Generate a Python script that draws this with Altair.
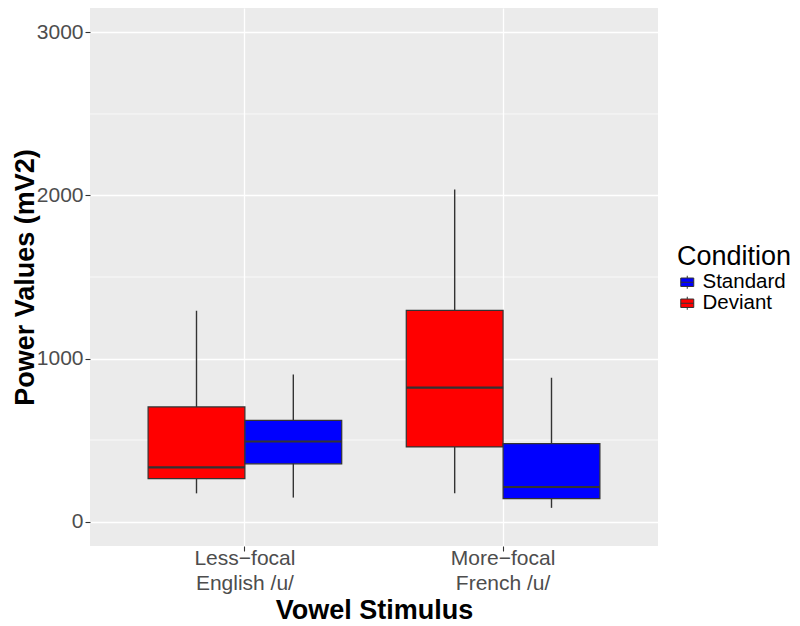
import altair as alt
import pandas as pd

# Category labels ("|" marks a line break in the axis label)
stimuli = ["Less−focal|English /u/", "More−focal|French /u/"]
conditions = ["Deviant", "Standard"]
legend_order = ["Standard", "Deviant"]
colors = ["#0000FF", "#FF0000"]

# Boxplot statistics, one entry per (stimulus, condition) in the order
# Less/Deviant, Less/Standard, More/Deviant, More/Standard
row_stim = [stimuli[0], stimuli[0], stimuli[1], stimuli[1]]
row_cond = ["Deviant", "Standard", "Deviant", "Standard"]
lower = [173, 147, 173, 84]
q1 = [263, 354, 458, 141]
median = [332, 491, 821, 212]
q3 = [703, 621, 1295, 478]
upper = [1293, 902, 2037, 882]

y_ticks = [0, 1000, 2000, 3000]
y_minor = [500, 1500, 2500]

df = pd.DataFrame({
    "stim": row_stim, "cond": row_cond,
    "lower": lower, "q1": q1, "median": median, "q3": q3, "upper": upper,
})
minor_df = pd.DataFrame({"v": y_minor})

yscale = alt.Scale(domain=[-150, 3150], nice=False, zero=False)
xscale = alt.Scale(domain=stimuli, paddingInner=0.25, paddingOuter=0.225)
xoff = alt.XOffset("cond:N", scale=alt.Scale(domain=conditions, paddingInner=0, paddingOuter=0))

x_enc = alt.X(
    "stim:N", scale=xscale, sort=stimuli, title="Vowel Stimulus",
    axis=alt.Axis(labelExpr="split(datum.label, '|')", labelAngle=0,
                  labelLineHeight=25, grid=True, titlePadding=4, labelPadding=-4,
                  titleFontSize=27),
)
y_enc = alt.Y(
    "lower:Q", scale=yscale, title="Power Values (mV2)",
    axis=alt.Axis(values=y_ticks, format="d", grid=True, titlePadding=-3,
                  labelPadding=2, titleFontSize=27),
)

minor = alt.Chart(minor_df).mark_rule(color="white", strokeWidth=0.7).encode(
    y=alt.Y("v:Q", scale=yscale)
)

whisk = alt.Chart(df).mark_rule(color="#333333", strokeWidth=1.4).encode(
    x=x_enc, xOffset=xoff, y=y_enc, y2="upper:Q"
)

box = alt.Chart(df).mark_bar(stroke="#333333", strokeWidth=1.2).encode(
    x=x_enc, xOffset=xoff,
    y=alt.Y("q1:Q", scale=yscale), y2="q3:Q",
    color=alt.Color(
        "cond:N", scale=alt.Scale(domain=legend_order, range=colors),
        title="Condition",
        legend=alt.Legend(
            orient="none", legendX=587, legendY=236,
            symbolType="M-1,-0.65H1V0.65H-1Z M-1,0H1 M0,-1V-0.65 M0,0.65V1",
            symbolSize=169, symbolStrokeColor="#333333", symbolStrokeWidth=1,
            titleFontSize=27, titleFontWeight="normal", titleColor="black",
            labelFontSize=20.5, labelColor="black", rowPadding=-1,
            labelOffset=5, titlePadding=1,
        ),
    ),
)

med = alt.Chart(df).mark_bar(stroke="#333333", strokeWidth=2.2, fillOpacity=0).encode(
    x=x_enc, xOffset=xoff,
    y=alt.Y("median:Q", scale=yscale), y2="median:Q",
)

chart = alt.layer(minor, whisk, box, med).properties(
    width=568, height=538,
    padding={"left": 3, "top": 0, "right": 0, "bottom": 0},
).configure_view(
    fill="#EBEBEB", stroke=None
).configure_axis(
    domain=False, gridColor="white", gridWidth=1.3,
    tickColor="#333333", tickSize=5, tickWidth=1.1,
    labelColor="#4D4D4D", labelFontSize=21, labelFont="Liberation Sans",
    titleFont="Liberation Sans", titleFontWeight="bold",
    titleColor="black",
).configure_legend(
    labelFont="Liberation Sans", titleFont="Liberation Sans"
)

chart.save("out.html", embed_options={"renderer": "svg", "actions": False})
